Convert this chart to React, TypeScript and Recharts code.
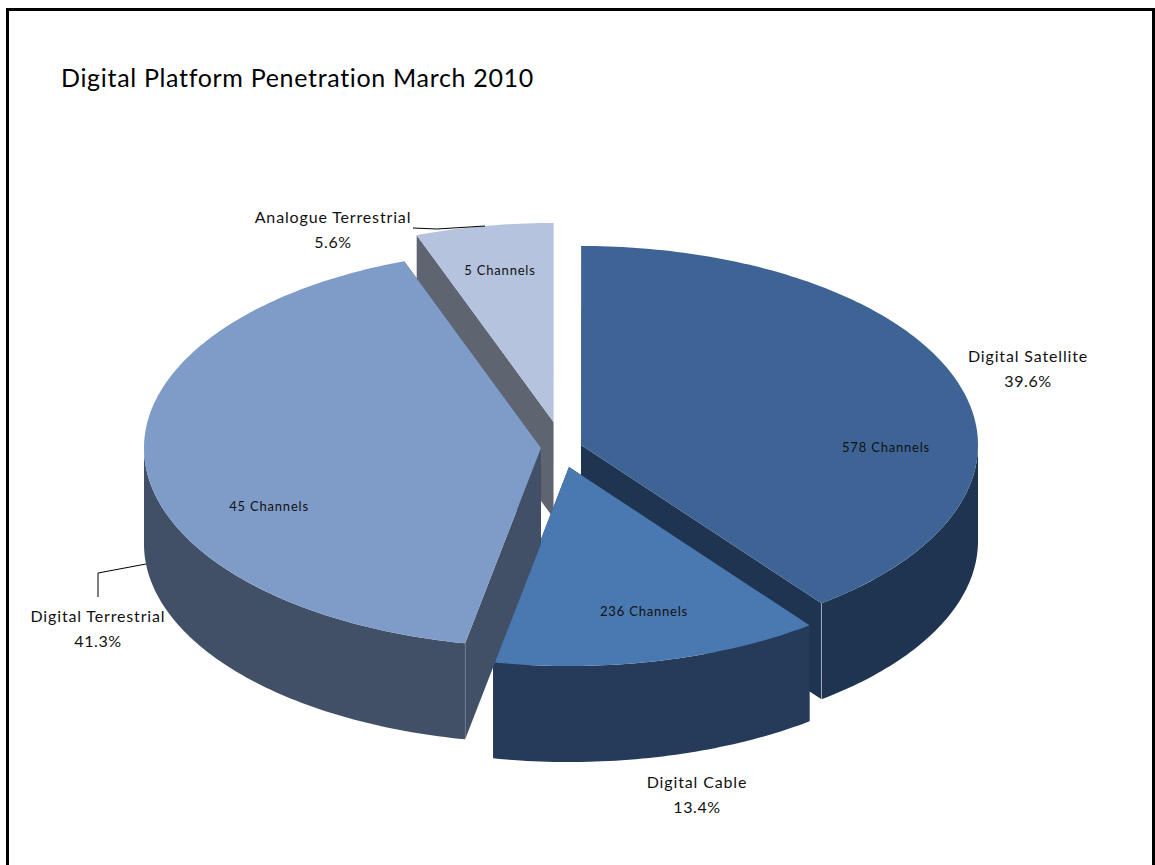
import { PieChart, Pie, Cell } from 'recharts'

const platforms = ['Analogue Terrestrial', 'Digital Satellite', 'Digital Cable', 'Digital Terrestrial']
const shares = [5.6, 39.6, 13.4, 41.3]
const channels = [5, 578, 236, 45]
const topColors = ['#B5C3DE', '#3E6496', '#4A78B0', '#7F9CC8']
const sideColors = ['#5E6470', '#1F3450', '#263B5A', '#414F67']

const chartData = platforms.map((name, i) => ({
  name,
  share: shares[i],
  channels: channels[i],
  side: sideColors[i],
}))

// 3D look: circle squashed to an ellipse, with a wall hanging below it
const SQUASH = 0.5013
const DEPTH = 96
const FONT = 'Lato, sans-serif'
const RAD = Math.PI / 180

// how far each slice is pulled out of the pie
const explode: Record<string, [number, number]> = {
  'Analogue Terrestrial': [-7.5, -22],
  'Digital Satellite': [20, 1],
  'Digital Cable': [8, 23],
  'Digital Terrestrial': [-20, 4],
}

const labelSpots: Record<string, { x: number; y: number; innerX: number; innerY: number }> = {
  'Analogue Terrestrial': { x: 333, y: 223, innerX: 500, innerY: 275 },
  'Digital Satellite': { x: 1028, y: 362, innerX: 886, innerY: 452 },
  'Digital Cable': { x: 697, y: 788, innerX: 644, innerY: 616 },
  'Digital Terrestrial': { x: 98, y: 622, innerX: 269, innerY: 511 },
}

const leaders: Record<string, string> = {
  'Analogue Terrestrial': '413,228 437,229 485,226',
  'Digital Terrestrial': '98,597 98,573 146,564',
}

// edge between top and wall worth a faint highlight
const seams: Record<string, { edge: 'startAngle' | 'endAngle'; opacity: number }> = {
  'Digital Satellite': { edge: 'endAngle', opacity: 0.45 },
  'Digital Terrestrial': { edge: 'startAngle', opacity: 0.12 },
}

function Slice3D(props: any) {
  const { cx, cy, outerRadius, startAngle, endAngle, fill, name } = props
  const [dx, dy] = explode[name]
  const ax = cx + dx
  const ay = cy + dy
  const px = (deg: number) => ax + Math.cos(deg * RAD) * outerRadius
  const py = (deg: number) => ay - Math.sin(deg * RAD) * outerRadius * SQUASH
  const side = props.payload?.side ?? props.side

  const arc = (from: number, to: number, drop: number) => {
    const pts: string[] = []
    const steps = Math.max(2, Math.ceil(Math.abs(from - to)))
    for (let s = 0; s <= steps; s++) {
      const deg = from + ((to - from) * s) / steps
      pts.push(`${px(deg).toFixed(2)},${(py(deg) + drop).toFixed(2)}`)
    }
    return pts
  }

  const radial = (deg: number) =>
    [
      `${ax},${ay}`,
      `${px(deg)},${py(deg)}`,
      `${px(deg)},${py(deg) + DEPTH}`,
      `${ax},${ay + DEPTH}`,
    ].join(' ')

  // only the front half of the rim can be seen
  const wallFrom = Math.min(startAngle, 0)
  const wallTo = Math.max(endAngle, -180)
  const seam = seams[name]

  return (
    <g>
      <polygon points={radial(startAngle)} fill={side} />
      <polygon points={radial(endAngle)} fill={side} />
      {wallFrom > wallTo && (
        <polygon
          points={[...arc(wallFrom, wallTo, 0), ...arc(wallTo, wallFrom, DEPTH)].join(' ')}
          fill={side}
        />
      )}
      <polygon points={[`${ax},${ay}`, ...arc(startAngle, endAngle, 0)].join(' ')} fill={fill} />
      {seam && (
        <line
          x1={px(props[seam.edge])}
          y1={py(props[seam.edge])}
          x2={px(props[seam.edge])}
          y2={py(props[seam.edge]) + DEPTH}
          stroke="#fff"
          strokeOpacity={seam.opacity}
        />
      )}
    </g>
  )
}

function SliceLabel(props: any) {
  const { name, payload } = props
  const spot = labelSpots[name]
  const leader = leaders[name]
  return (
    <g fontFamily={FONT} fill="#111">
      {leader && <polyline points={leader} fill="none" stroke="#000" strokeWidth={1} />}
      <text x={spot.x} y={spot.y} textAnchor="middle" fontSize={16} letterSpacing={0.85}>
        {name}
      </text>
      <text x={spot.x} y={spot.y + 25} textAnchor="middle" fontSize={16} letterSpacing={0.6}>
        {payload.share.toFixed(1)}%
      </text>
      <text x={spot.innerX} y={spot.innerY} textAnchor="middle" fontSize={13} letterSpacing={0.8}>
        {payload.channels} Channels
      </text>
    </g>
  )
}

export default function App() {
  // first slice ends at twelve o'clock, the rest run clockwise from there
  const startAngle = 90 + shares[0] * 3.6
  return (
    <div style={{ position: 'absolute', left: 0, top: 0, width: 1155, height: 865, overflow: 'hidden', background: '#fff' }}>
      <div
        style={{
          position: 'absolute',
          left: 6,
          top: 8,
          width: 1143,
          height: 860,
          border: '3px solid #000',
          borderBottom: 'none',
        }}
      />
      <div style={{ position: 'absolute', left: 0, top: 0 }}>
        <PieChart width={1155} height={865} margin={{ top: 0, right: 0, bottom: 0, left: 0 }}>
          <text x={61} y={87} fontFamily={FONT} fontSize={25} letterSpacing={0.68} fill="#000">
            Digital Platform Penetration March 2010
          </text>
          <Pie
            data={chartData}
            dataKey="share"
            nameKey="name"
            cx={561}
            cy={444}
            innerRadius={0}
            outerRadius={397}
            startAngle={startAngle}
            endAngle={startAngle - 360}
            stroke="none"
            shape={Slice3D}
            label={SliceLabel}
            labelLine={false}
            isAnimationActive={false}
          >
            {chartData.map((d, i) => (
              <Cell key={d.name} fill={topColors[i]} />
            ))}
          </Pie>
        </PieChart>
      </div>
    </div>
  )
}
